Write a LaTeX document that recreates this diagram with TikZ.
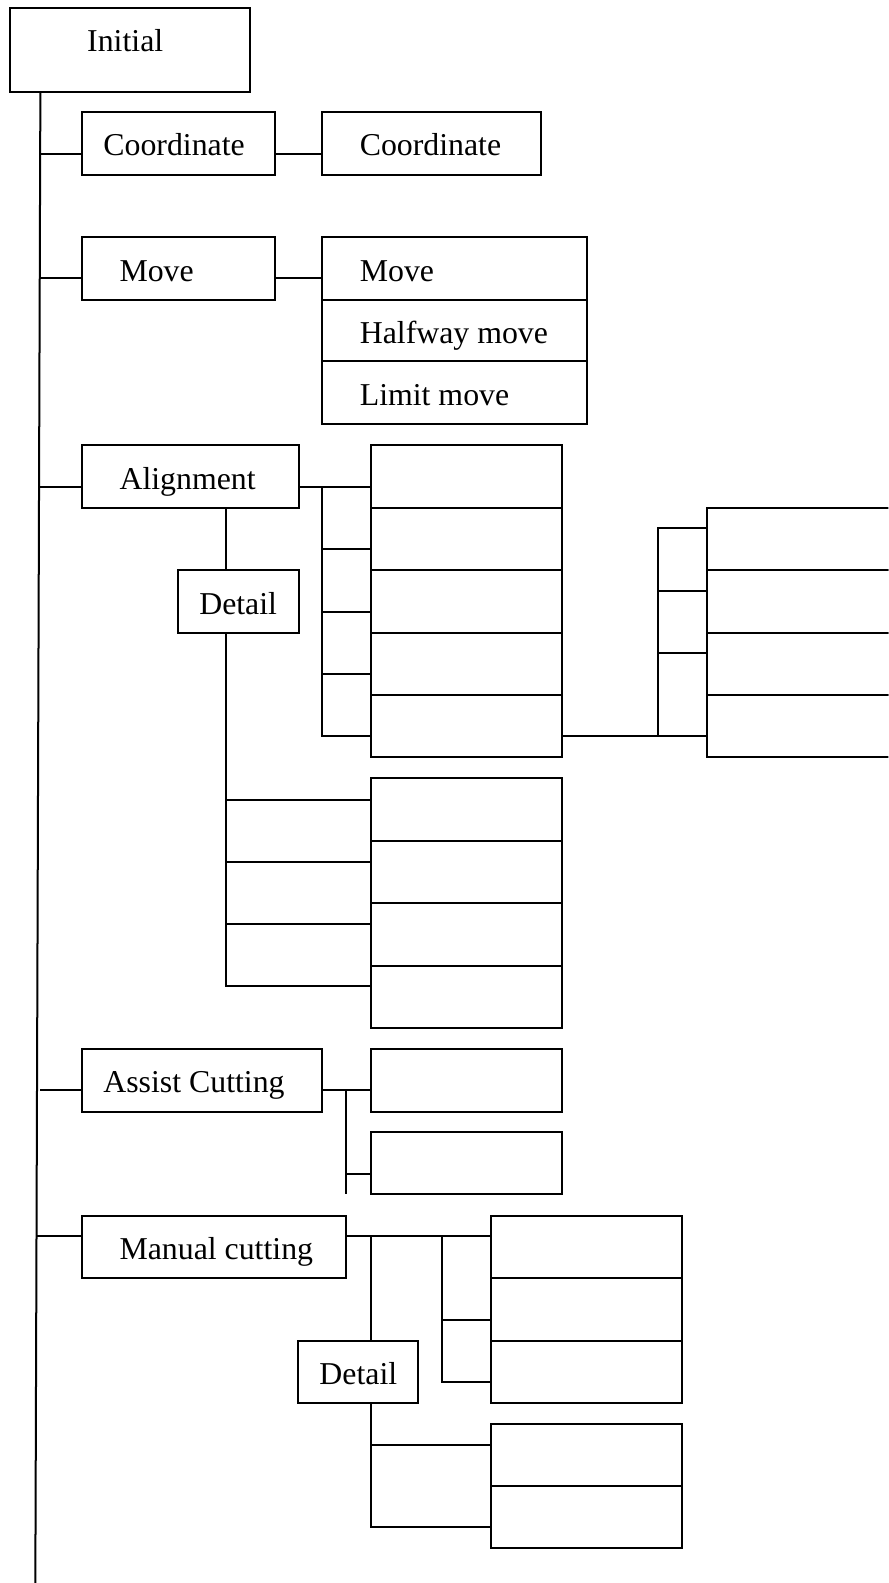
\documentclass[tikz,border=0pt]{standalone}
\usepackage{fontspec}
\setmainfont{Liberation Serif}
\usetikzlibrary{fit}
\begin{document}
\begin{tikzpicture}[x=0.5045pt,y=-0.5045pt,
  box/.style={draw, line width=1pt, rectangle, inner sep=0pt, outer sep=0pt},
  lbl/.style={inner sep=0pt, anchor=base west, font=\fontsize{15.9pt}{19pt}\selectfont},
  wire/.style={line width=1pt}]
\clip (0,0) rectangle (880,1568);
\fill[white] (0,0) rectangle (880,1568);
% boxes
\node[box, fit={(10,8)(248,91)}] (init) {};
\node[box, fit={(81,111)(272,173)}] (coordL) {};
\node[box, fit={(319,111)(536,173)}] (coordR) {};
\node[box, fit={(81,235)(272,297)}] (moveL) {};
\node[box, fit={(319,235)(581,297)}] (moveA) {};
\node[box, fit={(319,297)(581,358)}] (moveB) {};
\node[box, fit={(319,358)(581,420)}] (moveC) {};
\node[box, fit={(81,441)(296,503)}] (align) {};
\node[box, fit={(176,565)(296,627)}] (detA) {};
\node[box, fit={(367,441)(557,503)}] (a1) {};
\node[box, fit={(367,503)(557,565)}] (a2) {};
\node[box, fit={(367,565)(557,627)}] (a3) {};
\node[box, fit={(367,627)(557,688.5)}] (a4) {};
\node[box, fit={(367,688.5)(557,750)}] (a5) {};
\node[box, fit={(700,503)(900,565)}] (b1) {};
\node[box, fit={(700,565)(900,627)}] (b2) {};
\node[box, fit={(700,627)(900,688.5)}] (b3) {};
\node[box, fit={(700,688.5)(900,750)}] (b4) {};
\node[box, fit={(367,771)(557,833)}] (c1) {};
\node[box, fit={(367,833)(557,894.5)}] (c2) {};
\node[box, fit={(367,894.5)(557,956.5)}] (c3) {};
\node[box, fit={(367,956.5)(557,1018)}] (c4) {};
\node[box, fit={(81,1039)(319,1101)}] (assist) {};
\node[box, fit={(367,1039)(557,1101)}] (s1) {};
\node[box, fit={(367,1121.5)(557,1183)}] (s2) {};
\node[box, fit={(81,1204)(343,1266)}] (manual) {};
\node[box, fit={(486,1204)(676,1266)}] (d1) {};
\node[box, fit={(486,1266)(676,1328)}] (d2) {};
\node[box, fit={(486,1328)(676,1389.5)}] (d3) {};
\node[box, fit={(295,1328)(414,1389.5)}] (detB) {};
\node[box, fit={(486,1410)(676,1472)}] (e1) {};
\node[box, fit={(486,1472)(676,1533.5)}] (e2) {};
% labels
\node[lbl] (tInit) at (86,51.5) {Initial};
\node[lbl] (tCoordL) at (102,154.5) {Coordinate};
\node[lbl] (tCoordR) at (356,154.5) {Coordinate};
\node[lbl] (tMoveL) at (118,278.5) {Move};
\node[lbl] (tMoveA) at (356,278.5) {Move};
\node[lbl] (tMoveB) at (356,340.5) {Halfway move};
\node[lbl] (tMoveC) at (356,401.5) {Limit move};
\node[lbl] (tAlign) at (118,484.5) {Alignment};
\node[lbl] (tDetA) at (197,608.5) {Detail};
\node[lbl] (tAssist) at (102,1082.5) {Assist Cutting};
\node[lbl] (tManual) at (118,1247.5) {Manual cutting};
\node[lbl] (tDetB) at (316,1371.5) {Detail};
% trunk
\coordinate (trTop) at (40,91);
\coordinate (trBot) at (35,1568);
\draw[wire] (trTop) -- (trBot);
% Coordinate
\coordinate (j1) at (39.8,153);
\draw[wire] (j1) -- (j1 -| coordL.west);
\draw[wire] (coordL.east |- j1) -- (coordR.west |- j1);
% Move
\coordinate (j2) at (39.4,275);
\draw[wire] (j2) -- (j2 -| moveL.west);
\draw[wire] (moveL.east |- j2) -- (moveA.west |- j2);
% Alignment
\coordinate (j3) at (38.7,482);
\draw[wire] (j3) -- (j3 -| align.west);
\coordinate (ka) at (319,482);
\coordinate (kaB) at (319,729.5);
\draw[wire] (align.east |- ka) -- (a1.west |- ka);
\draw[wire] (ka) -- (kaB) -- (kaB -| a5.west);
\coordinate (ka2) at (319,544);
\coordinate (ka3) at (319,606);
\coordinate (ka4) at (319,668);
\draw[wire] (ka2) -- (ka2 -| a2.west);
\draw[wire] (ka3) -- (ka3 -| a3.west);
\draw[wire] (ka4) -- (ka4 -| a4.west);
% Alignment detail
\coordinate (dv) at (224,0);
\draw[wire] (align.south -| dv) -- (detA.north -| dv);
\coordinate (dvB) at (224,976.5);
\draw[wire] (detA.south -| dv) -- (dvB) -- (dvB -| c4.west);
\coordinate (dv1) at (224,792);
\coordinate (dv2) at (224,853.5);
\coordinate (dv3) at (224,915.5);
\draw[wire] (dv1) -- (dv1 -| c1.west);
\draw[wire] (dv2) -- (dv2 -| c2.west);
\draw[wire] (dv3) -- (dv3 -| c3.west);
% column A to column B
\coordinate (kb) at (652,729.5);
\coordinate (kbT) at (652,523);
\draw[wire] (a5.east |- kb) -- (b4.west |- kb);
\draw[wire] (kb) -- (kbT) -- (kbT -| b1.west);
\coordinate (kb2) at (652,585);
\coordinate (kb3) at (652,647);
\draw[wire] (kb2) -- (kb2 -| b2.west);
\draw[wire] (kb3) -- (kb3 -| b3.west);
% Assist cutting
\coordinate (j5) at (40,1080);
\draw[wire] (j5) -- (j5 -| assist.west);
\coordinate (ks) at (343,1080);
\coordinate (ksB) at (343,1183);
\coordinate (ks2) at (343,1162.5);
\draw[wire] (assist.east |- ks) -- (s1.west |- ks);
\draw[wire] (ks) -- (ksB);
\draw[wire] (ks2) -- (ks2 -| s2.west);
% Manual cutting
\coordinate (j6) at (36.2,1224.5);
\draw[wire] (j6) -- (j6 -| manual.west);
\draw[wire] (manual.east |- j6) -- (d1.west |- j6);
\coordinate (mv) at (367,0);
\draw[wire] (j6 -| mv) -- (detB.north -| mv);
\coordinate (kd) at (438,1224.5);
\coordinate (kdB) at (438,1369);
\coordinate (kd2) at (438,1307);
\draw[wire] (kd) -- (kdB) -- (kdB -| d3.west);
\draw[wire] (kd2) -- (kd2 -| d2.west);
\coordinate (mvB) at (367,1513);
\coordinate (mv1) at (367,1431);
\draw[wire] (detB.south -| mv) -- (mvB) -- (mvB -| e2.west);
\draw[wire] (mv1) -- (mv1 -| e1.west);
\end{tikzpicture}
\end{document}
